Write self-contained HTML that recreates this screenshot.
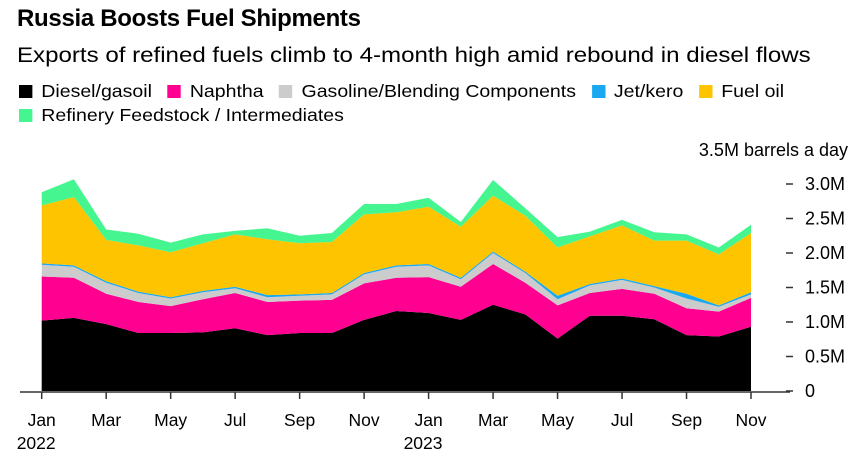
<!DOCTYPE html>
<html><head><meta charset="utf-8"><style>
body{margin:0;width:864px;height:463px;background:#fff;font-family:"Liberation Sans",sans-serif;overflow:hidden;position:relative}
.t{position:absolute;left:17px;top:5px;font-size:24px;font-weight:bold;color:#000;letter-spacing:-0.3px}
.s{position:absolute;left:17px;top:43px;font-size:21.5px;color:#000;white-space:nowrap;transform:scaleX(1.12);transform-origin:left top}
.lg{position:absolute;left:19px;font-size:17.5px;color:#000;white-space:nowrap;transform:scaleX(1.115);transform-origin:left top}
.lg span{display:inline-block;margin-right:14px}
.lg i{display:inline-block;width:12px;height:13px;margin-right:8px;vertical-align:-1px}
</style></head><body>
<div class="t">Russia Boosts Fuel Shipments</div>
<div class="s">Exports of refined fuels climb to 4-month high amid rebound in diesel flows</div>
<div class="lg" style="top:81px">
<span><i style="background:#000"></i>Diesel/gasoil</span><span><i style="background:#ff0090"></i>Naphtha</span><span><i style="background:#cccccc"></i>Gasoline/Blending Components</span><span><i style="background:#1aa8f0"></i>Jet/kero</span><span><i style="background:#ffc400"></i>Fuel oil</span>
</div>
<div class="lg" style="top:105px"><span><i style="background:#45f590"></i>Refinery Feedstock / Intermediates</span></div>
<svg id="c" width="864" height="463" style="position:absolute;left:0;top:0"></svg>
<script>
const months=["Jan","Feb","Mar","Apr","May","Jun","Jul","Aug","Sep","Oct","Nov","Dec","Jan","Feb","Mar","Apr","May","Jun","Jul","Aug","Sep","Oct","Nov"];
const diesel=[1.02,1.06,0.97,0.84,0.84,0.85,0.91,0.81,0.84,0.84,1.03,1.16,1.13,1.03,1.25,1.11,0.76,1.09,1.09,1.04,0.81,0.79,0.93];
const naphtha=[0.64,0.58,0.44,0.45,0.39,0.48,0.51,0.48,0.47,0.48,0.53,0.48,0.52,0.48,0.59,0.46,0.48,0.33,0.39,0.37,0.39,0.36,0.42];
const gasoline=[0.17,0.16,0.16,0.13,0.11,0.10,0.07,0.07,0.07,0.08,0.13,0.16,0.17,0.11,0.16,0.14,0.09,0.11,0.13,0.09,0.14,0.07,0.05];
const jet=[0.02,0.02,0.02,0.02,0.02,0.02,0.02,0.03,0.02,0.02,0.02,0.02,0.02,0.02,0.02,0.02,0.05,0.02,0.02,0.02,0.07,0.02,0.03];
const fuelOil=[0.84,0.99,0.60,0.67,0.65,0.69,0.76,0.81,0.74,0.74,0.85,0.77,0.83,0.74,0.81,0.81,0.70,0.69,0.77,0.66,0.77,0.74,0.86];
const feedstock=[0.19,0.26,0.15,0.17,0.14,0.13,0.05,0.16,0.11,0.13,0.15,0.12,0.13,0.07,0.23,0.11,0.15,0.07,0.08,0.12,0.09,0.10,0.12];
const yTicks=[0,0.5,1,1.5,2,2.5,3];
const yTickLabels=["0","0.5M","1.0M","1.5M","2.0M","2.5M","3.0M"];
const series=[["diesel",diesel,"#000000"],["naphtha",naphtha,"#ff0090"],["gasoline",gasoline,"#cccccc"],["jet-kero",jet,"#1aa8f0"],["fuel-oil",fuelOil,"#ffc400"],["feedstock",feedstock,"#45f590"]];
const NS="http://www.w3.org/2000/svg",svg=document.getElementById('c');
const x=i=>41.7+i*(751-41.7)/(months.length-1);
const y=v=>391-v*69;
function mk(t,a){const e=document.createElementNS(NS,t);for(const k in a)e.setAttribute(k,a[k]);svg.appendChild(e);return e;}
let base=months.map(()=>0);
series.forEach(([name,vals,col])=>{
  const top=base.map((b,i)=>b+vals[i]);
  let d=top.map((v,i)=>(i?'L':'M')+x(i).toFixed(1)+','+y(v).toFixed(1)).join('');
  for(let i=months.length-1;i>=0;i--)d+='L'+x(i).toFixed(1)+','+y(base[i]).toFixed(1);
  const p=mk('path',{d:d+'Z',fill:col});
  
  
  base=top;
});
const ax=mk('line',{x1:20,x2:790,y1:392,y2:392,stroke:'#333','stroke-width':1.5});


yTicks.forEach((v,k)=>{
  const l=mk('line',{x1:786,x2:793,y1:y(v),y2:y(v),stroke:'#333','stroke-width':1.5});
  
  
  const t=mk('text',{x:805,y:y(v)+6,'font-size':18,'font-family':'Liberation Sans, sans-serif',fill:'#000'});
  t.textContent=yTickLabels[k];
  
  
});
const u=mk('text',{x:848,y:156,'font-size':18,'text-anchor':'end','font-family':'Liberation Sans, sans-serif',fill:'#000'});
u.textContent='3.5M barrels a day';


months.forEach((m,i)=>{
  if(i%2)return;
  const l=mk('line',{x1:x(i),x2:x(i),y1:392,y2:399,stroke:'#333','stroke-width':1.5});
  
  
  const t=mk('text',{x:x(i),y:426,'font-size':17.5,'text-anchor':'middle','font-family':'Liberation Sans, sans-serif',fill:'#000'});
  t.textContent=m;
  
  
});
[["2022",0],["2023",12]].forEach(([yr,i])=>{
  const t=mk('text',{x:x(i)-25,y:449,'font-size':17.5,'font-family':'Liberation Sans, sans-serif',fill:'#000'});
  t.textContent=yr;
  
  
});
</script>
</body></html>
